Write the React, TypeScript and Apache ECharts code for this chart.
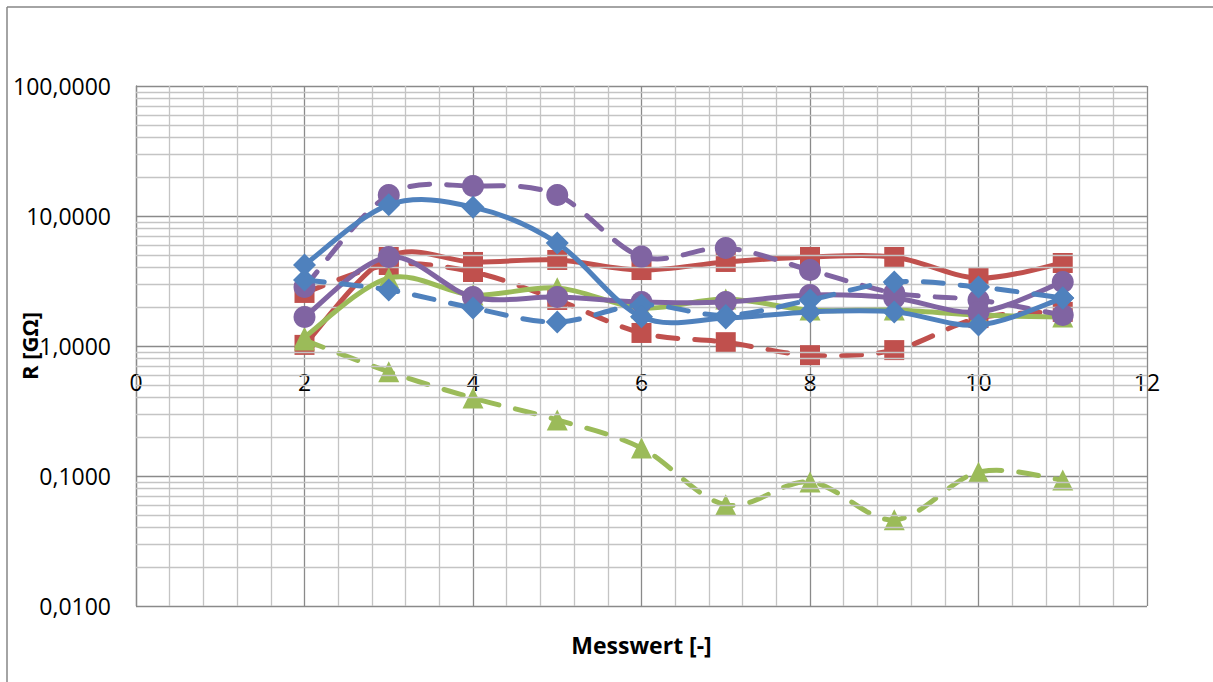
import React, { useEffect, useRef } from "react";
import * as echarts from "echarts";

const xValues = [2, 3, 4, 5, 6, 7, 8, 9, 10, 11];
const blueSolid = [4.2, 12.2, 11.7, 6.2, 1.68, 1.64, 1.83, 1.83, 1.45, 2.34];
const blueDashed = [3.22, 2.7, 1.96, 1.53, 2.07, 1.72, 2.26, 3.11, 2.84, 2.34];
const redSolid = [1.02, 4.84, 4.43, 4.59, 3.84, 4.43, 4.84, 4.84, 3.33, 4.35];
const redDashed = [2.56, 4.2, 3.71, 2.26, 1.26, 1.07, 0.85, 0.93, 1.64, 1.83];
const greenSolid = [1.17, 3.33, 2.47, 2.8, 1.96, 2.3, 1.89, 1.89, 1.73, 1.67];
const greenDashed = [1.11, 0.634, 0.398, 0.27, 0.164, 0.06, 0.09, 0.046, 0.107, 0.093];
const purpleSolid = [1.67, 4.84, 2.38, 2.38, 2.18, 2.18, 2.47, 2.34, 1.83, 3.11];
const purpleDashed = [2.84, 14.5, 17.0, 14.5, 4.87, 5.67, 3.84, 2.56, 2.26, 1.73];

const minorGridValues = [
  0.02, 0.03, 0.04, 0.05, 0.06, 0.07, 0.08, 0.09,
  0.2, 0.3, 0.4, 0.5, 0.6, 0.7, 0.8, 0.9,
  2, 3, 4, 5, 6, 7, 8, 9,
  20, 30, 40, 50, 60, 70, 80, 90,
];

const BLUE = "#4F81BD";
const RED = "#C0504D";
const GREEN = "#9BBB59";
const PURPLE = "#8064A2";

const FONT = "'Open Sans', 'Liberation Sans', sans-serif";

function pairs(vals: number[]) {
  return xValues.map((x, i) => [x, vals[i]]);
}

// Excel-like smoothed line (Catmull-Rom converted to cubic Bezier), drawn through the axes' scales.
function curveSeries(vals: number[], color: string, dashed: boolean, z: number) {
  return {
    type: "custom",
    coordinateSystem: "cartesian2d",
    data: pairs(vals),
    encode: { x: 0, y: 1 },
    z,
    silent: true,
    renderItem: (params: any, api: any) => {
      if (params.dataIndex !== 0) return null;
      const pts = xValues.map((x, i) => api.coord([x, vals[i]]));
      const n = pts.length;
      let d = `M${pts[0][0]},${pts[0][1]}`;
      for (let i = 0; i < n - 1; i++) {
        const p0 = pts[Math.max(0, i - 1)];
        const p1 = pts[i];
        const p2 = pts[i + 1];
        const p3 = pts[Math.min(n - 1, i + 2)];
        const t = 1 / 6;
        const c1x = p1[0] + (p2[0] - p0[0]) * t;
        const c1y = p1[1] + (p2[1] - p0[1]) * t;
        const c2x = p2[0] - (p3[0] - p1[0]) * t;
        const c2y = p2[1] - (p3[1] - p1[1]) * t;
        d += ` C${c1x},${c1y} ${c2x},${c2y} ${p2[0]},${p2[1]}`;
      }
      return {
        type: "path",
        shape: { pathData: d },
        style: {
          fill: "none",
          stroke: color,
          lineWidth: 5,
          lineDash: dashed ? [20, 17] : null,
          lineCap: "round",
          lineJoin: "round",
        },
      };
    },
  };
}

function markerSeries(vals: number[], color: string, symbol: string, size: number, z: number) {
  return {
    type: "line",
    data: pairs(vals),
    symbol,
    symbolSize: size,
    showSymbol: true,
    z,
    silent: true,
    itemStyle: { color },
    lineStyle: { width: 0, opacity: 0 },
  };
}

export default function App() {
  const ref = useRef<HTMLDivElement>(null);
  useEffect(() => {
    if (!ref.current) return;
    const chart = echarts.init(ref.current, null, { renderer: "svg" });
    chart.setOption({
      animation: false,
      backgroundColor: "#ffffff",
      graphic: [
        {
          type: "line",
          shape: { x1: 7, y1: 7, x2: 1213, y2: 7 },
          style: { stroke: "#868686", lineWidth: 1.5 },
          silent: true,
        },
        {
          type: "line",
          shape: { x1: 7, y1: 7, x2: 7, y2: 682 },
          style: { stroke: "#868686", lineWidth: 1.5 },
          silent: true,
        },
        {
          type: "text",
          x: 29,
          y: 346,
          rotation: Math.PI / 2,
          style: {
            text: "R [GΩ]",
            fontFamily: FONT,
            fontSize: 22,
            fontWeight: "bold",
            fill: "#000",
            align: "center",
            verticalAlign: "middle",
          },
          silent: true,
          z: 10,
        },
      ],
      grid: { left: 136, right: 66, top: 86, bottom: 76, containLabel: false, outerBoundsMode: "none" },
      xAxis: {
        type: "value",
        min: 0,
        max: 12,
        interval: 2,
        name: "Messwert [-]",
        nameLocation: "middle",
        nameGap: 27,
        nameTextStyle: { fontFamily: FONT, fontSize: 23, fontWeight: "bold", color: "#000" },
        axisLine: { show: false },
        axisTick: { show: false },
        axisLabel: { margin: -236, fontFamily: FONT, fontSize: 23, color: "#000" },
        splitLine: { show: true, lineStyle: { color: "#8a8a8a", width: 1.3 } },
        minorTick: { show: false, splitNumber: 5 },
        minorSplitLine: { show: true, lineStyle: { color: "#c4c4c4", width: 1.3 } },
      },
      yAxis: {
        type: "log",
        logBase: 10,
        min: 0.01,
        max: 100,
        axisLine: { show: true, lineStyle: { color: "#8a8a8a", width: 1.3 } },
        axisTick: { show: false },
        axisLabel: {
          margin: 25,
          fontFamily: FONT,
          fontSize: 23,
          color: "#000",
          formatter: (v: number) => v.toFixed(4).replace(".", ","),
        },
        splitLine: { show: true, lineStyle: { color: "#8a8a8a", width: 1.3 } },
      },
      series: [
        {
          name: "minor",
          type: "line",
          data: [],
          z: 1,
          silent: true,
          markLine: {
            silent: true,
            symbol: "none",
            label: { show: false },
            lineStyle: { color: "#c4c4c4", width: 1.3, type: "solid" },
            data: minorGridValues.map((v) => ({ yAxis: v })),
          },
        },
        curveSeries(redDashed, RED, true, 2),
        markerSeries(redDashed, RED, "rect", 20, 2),
        curveSeries(redSolid, RED, false, 3),
        markerSeries(redSolid, RED, "rect", 20, 3),
        curveSeries(greenDashed, GREEN, true, 4),
        markerSeries(greenDashed, GREEN, "triangle", 21, 4),
        curveSeries(greenSolid, GREEN, false, 5),
        markerSeries(greenSolid, GREEN, "triangle", 21, 5),
        curveSeries(purpleDashed, PURPLE, true, 6),
        markerSeries(purpleDashed, PURPLE, "circle", 22, 6),
        curveSeries(purpleSolid, PURPLE, false, 7),
        markerSeries(purpleSolid, PURPLE, "circle", 22, 7),
        curveSeries(blueDashed, BLUE, true, 8),
        markerSeries(blueDashed, BLUE, "diamond", 23, 8),
        curveSeries(blueSolid, BLUE, false, 9),
        markerSeries(blueSolid, BLUE, "diamond", 23, 9),
      ],
    });
    return () => chart.dispose();
  }, []);
  return (
    <div
      ref={ref}
      style={{ position: "absolute", left: 0, top: 0, width: 1213, height: 682 }}
    />
  );
}
